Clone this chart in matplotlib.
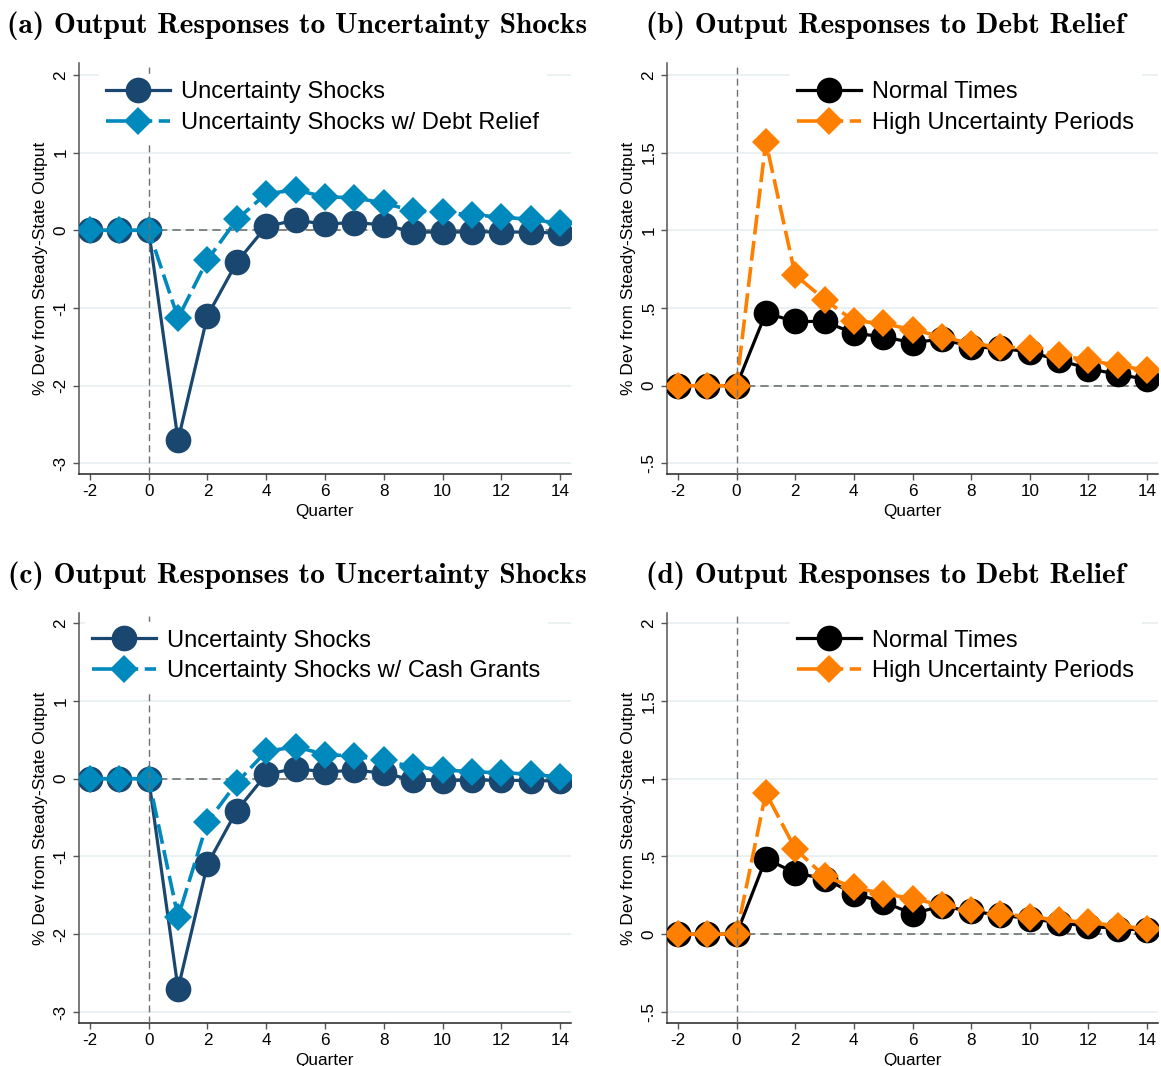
import matplotlib
matplotlib.use("Agg")
import matplotlib.pyplot as plt

# Impulse responses, quarters -2..14
quarters = list(range(-2, 15))

# (a) uncertainty shock, with and without debt relief
a_unc = [0, 0, 0, -2.70, -1.10, -0.41, 0.05, 0.13, 0.08, 0.10, 0.07,
         -0.02, -0.025, -0.02, -0.02, -0.025, -0.035]
a_relief = [0, 0, 0, -1.13, -0.38, 0.14, 0.47, 0.52, 0.43, 0.42, 0.35,
            0.25, 0.23, 0.20, 0.17, 0.14, 0.09]

# (b) debt relief in normal times vs high-uncertainty periods
b_normal = [0, 0, 0, 0.467, 0.413, 0.413, 0.337, 0.315, 0.276, 0.30, 0.25,
            0.24, 0.217, 0.163, 0.11, 0.072, 0.04]
b_high = [0, 0, 0, 1.57, 0.713, 0.554, 0.417, 0.40, 0.36, 0.315, 0.27,
          0.25, 0.24, 0.196, 0.163, 0.13, 0.098]

# (c) uncertainty shock, with and without cash grants
c_unc = [0, 0, 0, -2.70, -1.10, -0.41, 0.056, 0.13, 0.086, 0.107, 0.073,
         -0.02, -0.025, -0.02, -0.02, -0.025, -0.03]
c_cash = [0, 0, 0, -1.78, -0.56, -0.05, 0.35, 0.41, 0.31, 0.29, 0.236,
          0.15, 0.116, 0.086, 0.077, 0.056, 0.02]

# (d) second debt-relief comparison
d_normal = [0, 0, 0, 0.485, 0.393, 0.357, 0.26, 0.207, 0.132, 0.18, 0.147,
            0.122, 0.10, 0.073, 0.051, 0.036, 0.026]
d_high = [0, 0, 0, 0.908, 0.549, 0.372, 0.30, 0.26, 0.229, 0.186, 0.158,
          0.132, 0.111, 0.09, 0.075, 0.053, 0.036]

x_ticks = list(range(-2, 15, 2))
x_ticklabels = ["-2", "0", "2", "4", "6", "8", "10", "12", "14"]
shock_yticks = [2, 1, 0, -1, -2, -3]
shock_yticklabels = ["2", "1", "0", "-1", "-2", "-3"]
relief_yticks = [2, 1.5, 1, 0.5, 0, -0.5]
relief_yticklabels = ["2", "1.5", "1", ".5", "0", "-.5"]

NAVY = "#1a476f"
EBBLUE = "#0089bd"
ORANGE = "#ff8000"
BLACK = "#000000"
GRID = "#e6eff1"
REF = "#707070"

plt.rcParams["font.family"] = ["Liberation Sans", "DejaVu Sans"]

fig = plt.figure(figsize=(11.61, 10.66), dpi=100)

W, H = 1161.0, 1066.0


def make_ax(left, right, top, bottom):
    return fig.add_axes([left / W, 1 - bottom / H, (right - left) / W, (bottom - top) / H])


def style_ax(ax, ylim, yticks, yticklabels):
    ax.set_xlim(-2.37, 14.37)
    ax.set_ylim(*ylim)
    for side in ["top", "right"]:
        ax.spines[side].set_visible(False)
    ax.spines["left"].set_color("#555555")
    ax.spines["bottom"].set_color("#222222")
    ax.spines["left"].set_linewidth(1.1)
    ax.spines["bottom"].set_linewidth(1.1)
    ax.set_xticks(x_ticks)
    ax.set_xticklabels(x_ticklabels)
    ax.set_yticks(yticks)
    ax.set_yticklabels(yticklabels, rotation=90, va="center")
    ax.tick_params(axis="both", direction="out", length=4.5, width=1.0,
                   color="#555555", labelsize=12.3, pad=3)
    ax.tick_params(axis="y", pad=3)
    for y in yticks:
        ax.axhline(y, color=GRID, lw=1.2, zorder=0)
    ax.axhline(0, color=REF, lw=1.2, ls=(0, (5, 3)), zorder=1)
    ax.axvline(0, color=REF, lw=1.0, ls=(0, (5, 3)), zorder=10)
    ax.set_xlabel("Quarter", fontsize=12.3, labelpad=3)
    ax.set_ylabel("% Dev from Steady-State Output", fontsize=12.5, labelpad=4)


def draw_pair(ax, y1, y2, c1, c2, lab1, lab2, leg_x, leg_y):
    ax.plot(quarters, y1, color=c1, lw=2.3, marker="o", ms=18.5,
            mec=c1, mew=0, label=lab1, zorder=3)
    ax.plot(quarters, y2, color=c2, lw=2.6, ls=(0, (5.5, 1.8)), marker="D",
            ms=14.3, mec=c2, mew=0, label=lab2, zorder=4)
    leg = ax.legend(loc="upper left", bbox_to_anchor=(leg_x, leg_y),
                    fontsize=17, frameon=True, facecolor="white",
                    edgecolor="white", framealpha=1, fancybox=False,
                    borderpad=0.3, borderaxespad=0, handlelength=2.7,
                    handletextpad=0.47, labelspacing=0.38, numpoints=1)
    leg.set_zorder(20)


# (a)
ax_a = make_ax(79, 571, 63, 474)
style_ax(ax_a, (-3.136, 2.153), shock_yticks, shock_yticklabels)
draw_pair(ax_a, a_unc, a_relief, NAVY, EBBLUE, "Uncertainty Shocks",
          "Uncertainty Shocks w/ Debt Relief", 0.041, 0.973)

# (b)
ax_b = make_ax(667, 1158, 63, 474)
style_ax(ax_b, (-0.569, 2.077), relief_yticks, relief_yticklabels)
draw_pair(ax_b, b_normal, b_high, BLACK, ORANGE, "Normal Times",
          "High Uncertainty Periods", 0.25, 0.973)

# (c)
ax_c = make_ax(79, 571, 613, 1023)
style_ax(ax_c, (-3.141, 2.129), shock_yticks, shock_yticklabels)
draw_pair(ax_c, c_unc, c_cash, NAVY, EBBLUE, "Uncertainty Shocks",
          "Uncertainty Shocks w/ Cash Grants", 0.012, 0.977)

# (d)
ax_d = make_ax(667, 1158, 613, 1023)
style_ax(ax_d, (-0.571, 2.064), relief_yticks, relief_yticklabels)
draw_pair(ax_d, d_normal, d_high, BLACK, ORANGE, "Normal Times",
          "High Uncertainty Periods", 0.25, 0.977)

# panel titles
title_kw = dict(fontsize=21.2, family="cmb10", ha="center", va="center")
fig.text(297.5 / W, 1 - 26 / H, "(a) Output Responses to Uncertainty Shocks", **title_kw)
fig.text(885 / W, 1 - 26 / H, "(b) Output Responses to Debt Relief", **title_kw)
fig.text(297.5 / W, 1 - 576 / H, "(c) Output Responses to Uncertainty Shocks", **title_kw)
fig.text(885 / W, 1 - 576 / H, "(d) Output Responses to Debt Relief", **title_kw)

fig.savefig("out.png", dpi=100, facecolor="white")
